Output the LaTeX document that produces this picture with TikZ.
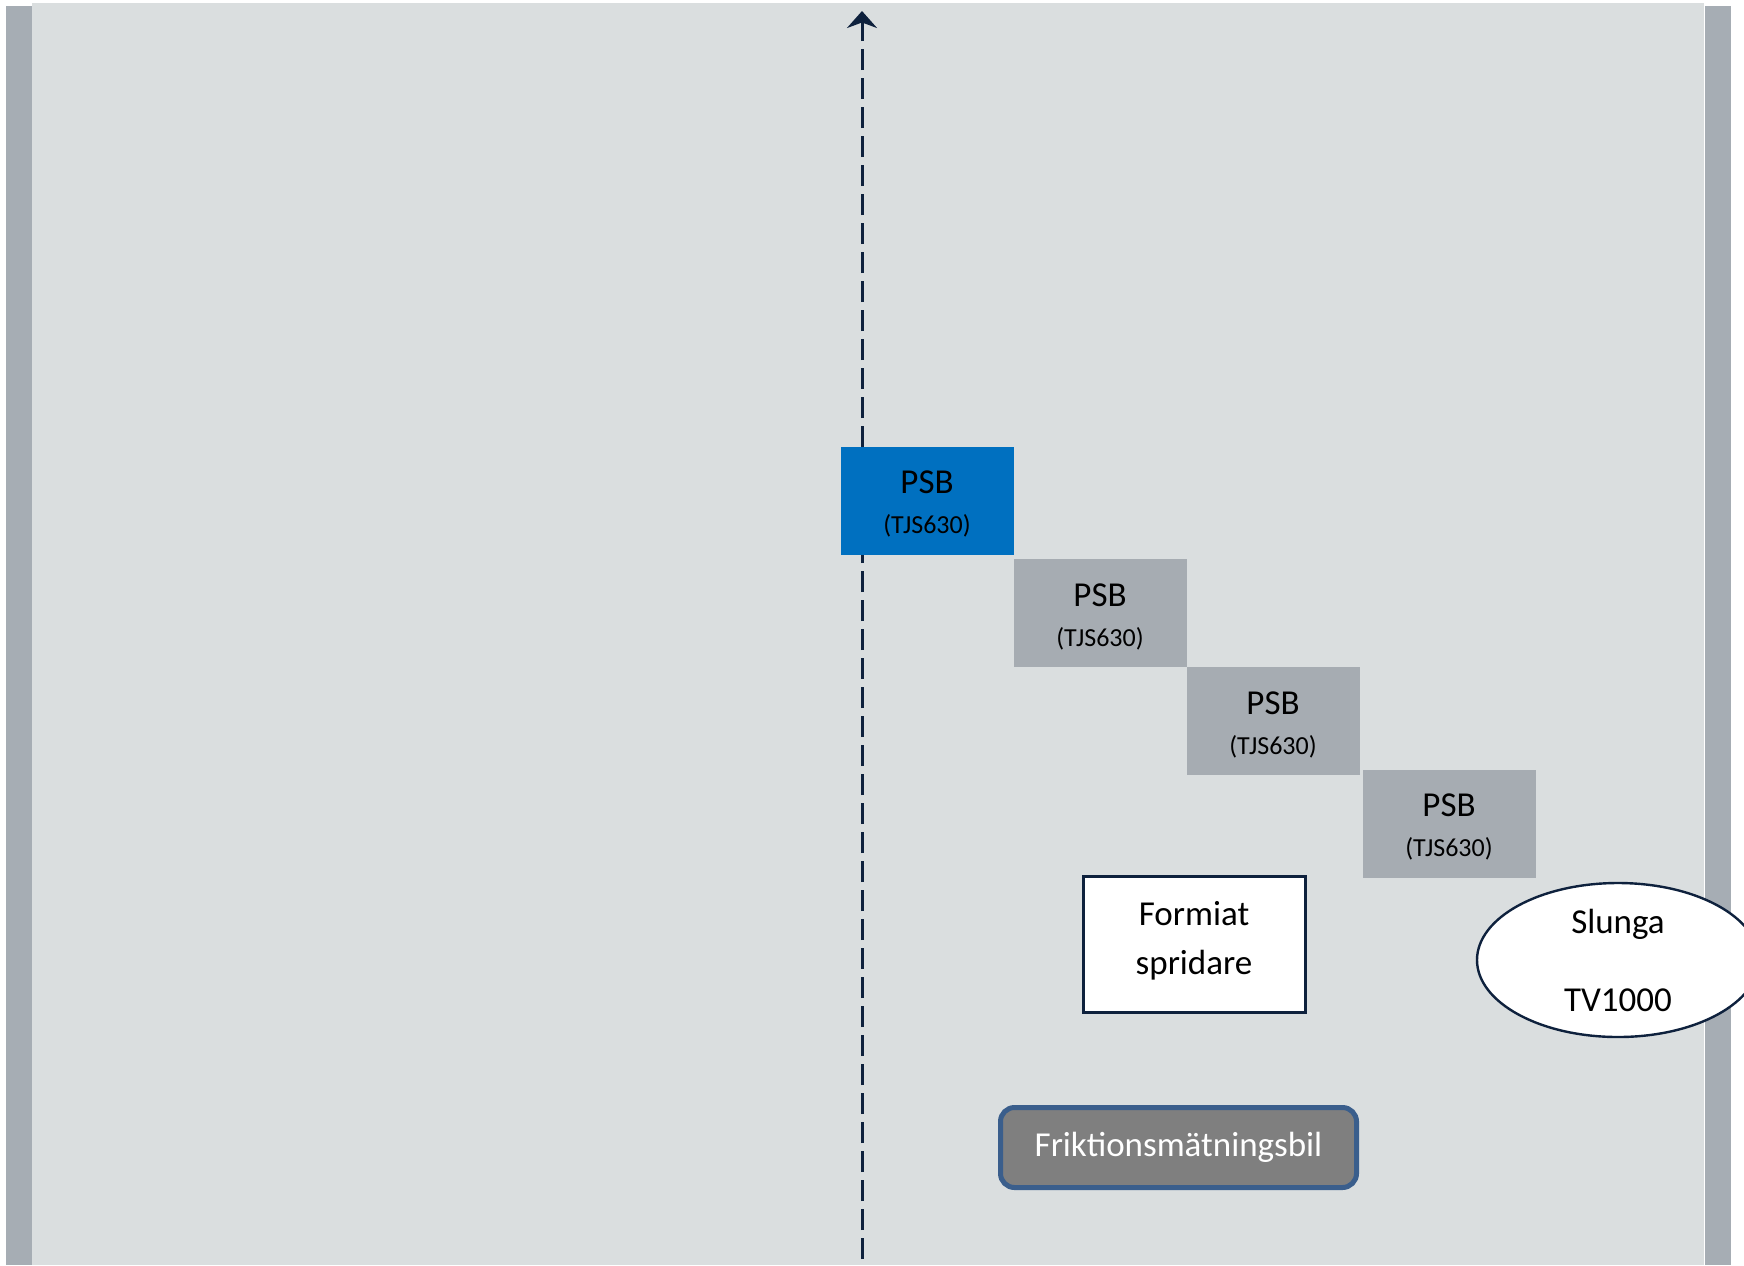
\documentclass[tikz,border=0pt]{standalone}
\usepackage{fontspec}
\setmainfont{Carlito}
\usepackage{tikz}
\usetikzlibrary{shapes,shapes.geometric,arrows.meta,calc,positioning}

\definecolor{roadgrey}{HTML}{DADEDF}
\definecolor{edgegrey}{HTML}{A6ADB4}
\definecolor{psbblue}{HTML}{0070C0}
\definecolor{psbgrey}{HTML}{A6ACB2}
\definecolor{navy}{HTML}{0E213D}
\definecolor{carframe}{HTML}{3A5E8C}
\definecolor{cargrey}{HTML}{7F7F7F}

\newcommand{\psblabel}{PSB\\[1pt]{\fontsize{13}{19}\selectfont (TJS630)}}

\begin{document}
\begin{tikzpicture}[%
    x=0.5pt,
    y=-0.5pt,
    >={Stealth[length=8.5pt,width=15pt]},
    psbtext/.style={align=center, inner sep=0pt, yshift=-1.8pt,
      font=\fontsize{17.5}{19}\selectfont},
    psb/.style={rectangle, fill=psbgrey, minimum width=86.5pt, minimum height=54pt,
      inner sep=0pt, label={[psbtext]center:\psblabel}},
    spreader/.style={rectangle, draw=navy, line width=1.5pt, fill=white,
      minimum width=111pt, minimum height=68pt, align=center,
      font=\fontsize{17.5}{24.5}\selectfont},
    blower/.style={ellipse, draw=navy, line width=1.2pt, fill=white,
      minimum width=141pt, minimum height=77pt, inner sep=0pt, align=center,
      font=\fontsize{17.5}{20}\selectfont},
    car/.style={rectangle, rounded corners=7pt, draw=carframe, line width=2.5pt,
      fill=cargrey, text=white, minimum width=178pt, minimum height=40pt,
      font=\fontsize{17.5}{19}\selectfont}
  ]
  \useasboundingbox (0,0) rectangle (1744,1265);

  % road and edges
  \fill[roadgrey] (32,3) rectangle (1704,1265);
  \fill[edgegrey] (6,6) rectangle (32,1265);
  \fill[edgegrey] (1705,6) rectangle (1731,1265);

  % driving line
  \coordinate (start) at (862,1259);
  \coordinate (goal) at (862,11);
  \draw[->, navy, line width=1.5pt, dash pattern=on 10.5pt off 4pt] (start) -- (goal);

  \node[psb, fill=psbblue] (psb1) at (927,500.5) {};
  \node[psb] (psb2) at (1100,613) {};
  \node[psb] (psb3) at (1273,721) {};
  \node[psb] (psb4) at (1449,823.5) {};

  \node[spreader, label={[align=center, inner sep=0pt, yshift=1.6pt,
      font=\fontsize{17.5}{24.5}\selectfont]center:Formiat\\spridare}]
    (formiat) at (1194,944) {};
  \node[blower] (slunga) at (1618,960) {Slunga\\[19pt]TV1000};

  \node[car] (bil) at (1178.5,1147.5) {Friktionsmätningsbil};

  \end{tikzpicture}
\end{document}
